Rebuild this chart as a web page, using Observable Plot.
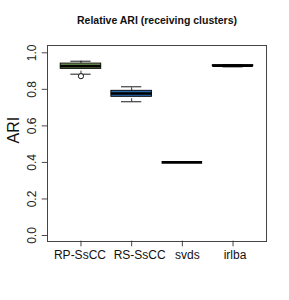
<!DOCTYPE html>
<html>
<head>
<meta charset="utf-8">
<script src="https://cdn.jsdelivr.net/npm/d3@7"></script>
<script src="https://cdn.jsdelivr.net/npm/@observablehq/plot@0.6"></script>
<style>
  html, body { margin: 0; padding: 0; background: #fff; }
  #chart svg { display: block; }
  #chart svg text { font-family: "Liberation Sans", Arial, sans-serif; }
</style>
</head>
<body>
<div id="chart"></div>
<script>
const methods = ["RP-SsCC", "RS-SsCC", "svds", "irlba"];
const whiskerLow  = [0.883, 0.732, 0.400, 0.923];
const q1          = [0.912, 0.759, 0.400, 0.927];
const median      = [0.927, 0.777, 0.400, 0.930];
const q3          = [0.941, 0.792, 0.400, 0.932];
const whiskerHigh = [0.954, 0.814, 0.400, 0.936];
const boxFills    = ["#7fa85a", "#2a68ad", "#ffffff", "#8a8a8a"];
const outlierMethod = ["RP-SsCC"];
const outlierValue  = [0.872];
const yTicks = [0, 0.2, 0.4, 0.6, 0.8, 1.0];
const titleText = "Relative ARI (receiving clusters)";
const yLabel = "ARI";

const labelShift = [-1, 8, 5, 2];
const rows = methods.map((m, i) => ({
  m, i: i + 1, lo: whiskerLow[i], q1: q1[i], med: median[i], q3: q3[i], hi: whiskerHigh[i], fill: boxFills[i]
}));
const outliers = outlierMethod.map((m, k) => ({ i: methods.indexOf(m) + 1, v: outlierValue[k] }));
const nonFlat = rows.filter(d => d.q3 > d.q1);
const ff = '"Liberation Sans", Arial, sans-serif';

const xLabelMarks = rows.map((r, k) =>
  Plot.text([r], { x: "i", y: 0, dy: 20, dx: labelShift[k], text: "m", fontSize: 12, fill: "#111", textAnchor: "middle", fontFamily: ff })
);

const chart = Plot.plot({
  width: 289,
  height: 300,
  marginLeft: 47,
  marginRight: 23,
  marginTop: 45,
  marginBottom: 59,
  style: { fontFamily: ff, background: "#fff", overflow: "visible" },
  x: { type: "linear", domain: [0.34, 4.66], range: [47, 266], axis: null },
  y: { type: "linear", domain: [0, 1], range: [235, 52.3], axis: null },
  marks: [
    Plot.ruleX(nonFlat, { x: "i", y1: "q3", y2: "hi", stroke: "#000", strokeWidth: 0.8, strokeDasharray: "3,2" }),
    Plot.ruleX(nonFlat, { x: "i", y1: "lo", y2: "q1", stroke: "#000", strokeWidth: 0.8, strokeDasharray: "3,2" }),
    Plot.ruleY(rows, { y: "hi", x1: d => d.i - 0.2, x2: d => d.i + 0.2, stroke: "#000", strokeWidth: 0.9 }),
    Plot.ruleY(rows, { y: "lo", x1: d => d.i - 0.2, x2: d => d.i + 0.2, stroke: "#000", strokeWidth: 0.9 }),
    Plot.rect(rows, { x1: d => d.i - 0.4, x2: d => d.i + 0.4, y1: "q1", y2: "q3", fill: "fill", stroke: "#000", strokeWidth: 0.9 }),
    Plot.ruleY(rows, { y: "med", x1: d => d.i - 0.4, x2: d => d.i + 0.4, stroke: "#000", strokeWidth: 2.6 }),
    Plot.dot(outliers, { x: "i", y: "v", r: 2.6, stroke: "#000", fill: "#fff", strokeWidth: 0.9 }),
    Plot.frame({ stroke: "#444", strokeWidth: 1 }),
    Plot.ruleY(yTicks, { y: d => d, x1: () => 0.235, x2: () => 0.34, stroke: "#333", strokeWidth: 0.9 }),
    Plot.text(yTicks, { y: d => d, x: 0.34, dx: -15, text: d => d.toFixed(1), rotate: -90, fontSize: 12, fill: "#222", textAnchor: "middle", fontFamily: ff }),
    Plot.ruleX(rows, { x: "i", y1: () => -0.031, y2: () => -0.062, stroke: "#333", strokeWidth: 0.9 }),
    ...xLabelMarks,
    Plot.text([yLabel], { frameAnchor: "left", dx: -34, dy: 0, text: d => d, rotate: -90, fontSize: 16, fill: "#111", fontFamily: ff }),
    Plot.text([titleText], { frameAnchor: "top", dy: -29, text: d => d, fontSize: 10.5, fontWeight: "bold", fill: "#111", fontFamily: ff })
  ]
});
document.getElementById("chart").append(chart);
</script>
</body>
</html>
